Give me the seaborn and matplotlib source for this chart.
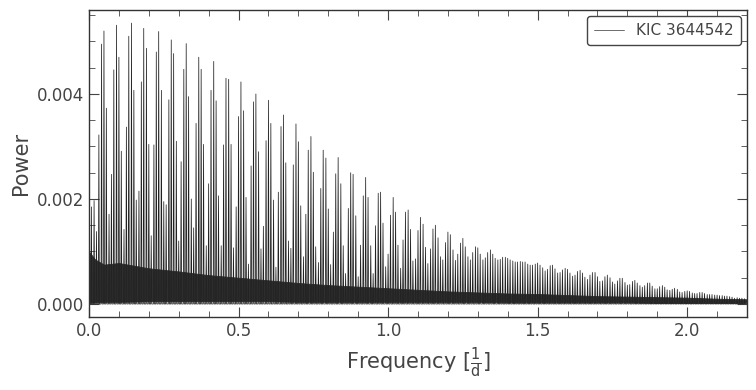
import numpy as np
import pandas as pd
import matplotlib
matplotlib.use('Agg')
import matplotlib.pyplot as plt
import seaborn as sns
from matplotlib.ticker import MultipleLocator

# Comb of periodogram peaks (frequency in 1/d)
peak_freq = [
    0.008, 0.017, 0.025, 0.033, 0.042, 0.050, 0.058, 0.067, 0.075, 0.083, 0.092, 0.100,
    0.108, 0.117, 0.125, 0.133, 0.142, 0.150, 0.158, 0.167, 0.175, 0.183, 0.192, 0.200,
    0.208, 0.217, 0.225, 0.233, 0.242, 0.250, 0.258, 0.267, 0.275, 0.283, 0.292, 0.300,
    0.308, 0.317, 0.325, 0.333, 0.342, 0.350, 0.358, 0.367, 0.375, 0.383, 0.392, 0.400,
    0.408, 0.417, 0.425, 0.433, 0.442, 0.450, 0.458, 0.467, 0.475, 0.483, 0.492, 0.500,
    0.508, 0.517, 0.525, 0.533, 0.542, 0.550, 0.558, 0.567, 0.575, 0.583, 0.592, 0.600,
    0.608, 0.617, 0.625, 0.633, 0.642, 0.650, 0.658, 0.667, 0.675, 0.683, 0.692, 0.700,
    0.708, 0.717, 0.725, 0.733, 0.742, 0.750, 0.758, 0.767, 0.775, 0.783, 0.792, 0.800,
    0.808, 0.817, 0.825, 0.833, 0.842, 0.850, 0.858, 0.867, 0.875, 0.883, 0.892, 0.900,
    0.908, 0.917, 0.925, 0.933, 0.942, 0.950, 0.958, 0.967, 0.975, 0.983, 0.992, 1.000,
    1.008, 1.017, 1.025, 1.033, 1.042, 1.050, 1.058, 1.067, 1.075, 1.083, 1.092, 1.100,
    1.108, 1.117, 1.125, 1.133, 1.142, 1.150, 1.158, 1.167, 1.175, 1.183, 1.192, 1.200,
    1.208, 1.217, 1.225, 1.233, 1.242, 1.250, 1.258, 1.267, 1.275, 1.283, 1.292, 1.300,
    1.308, 1.317, 1.325, 1.333, 1.342, 1.350, 1.358, 1.367, 1.375, 1.383, 1.392, 1.400,
    1.408, 1.417, 1.425, 1.433, 1.442, 1.450, 1.458, 1.467, 1.475, 1.483, 1.492, 1.500,
    1.508, 1.517, 1.525, 1.533, 1.542, 1.550, 1.558, 1.567, 1.575, 1.583, 1.592, 1.600,
    1.608, 1.617, 1.625, 1.633, 1.642, 1.650, 1.658, 1.667, 1.675, 1.683, 1.692, 1.700,
    1.708, 1.717, 1.725, 1.733, 1.742, 1.750, 1.758, 1.767, 1.775, 1.783, 1.792, 1.800,
    1.808, 1.817, 1.825, 1.833, 1.842, 1.850, 1.858, 1.867, 1.875, 1.883, 1.892, 1.900,
    1.908, 1.917, 1.925, 1.933, 1.942, 1.950, 1.958, 1.967, 1.975, 1.983, 1.992, 2.000,
    2.008, 2.017, 2.025, 2.033, 2.042, 2.050, 2.058, 2.067, 2.075, 2.083, 2.092, 2.100,
    2.108, 2.117, 2.125, 2.133, 2.142, 2.150, 2.158, 2.167, 2.175, 2.183, 2.192,
]

# peak heights, in units of 1e-3
peak_power_e3 = [
    1.85, 1.97, 1.38, 3.22, 4.95, 5.20, 3.73, 1.71, 2.47, 4.46, 5.31, 4.70,
    2.91, 1.42, 3.37, 5.10, 5.35, 4.07, 1.98, 2.15, 4.23, 5.25, 4.87, 3.04,
    1.30, 3.03, 4.80, 5.19, 4.07, 1.95, 1.89, 3.89, 5.03, 4.77, 3.10, 1.20,
    2.71, 4.47, 4.96, 3.95, 2.00, 1.45, 3.44, 4.70, 4.47, 3.04, 1.11, 2.29,
    4.07, 4.62, 3.87, 2.06, 1.11, 3.03, 4.30, 4.28, 3.04, 1.07, 1.85, 3.57,
    4.23, 3.68, 2.03, 0.76, 2.63, 3.85, 4.00, 2.90, 1.05, 1.48, 3.11, 3.88,
    3.44, 1.98, 0.70, 2.13, 3.38, 3.60, 2.69, 1.20, 1.06, 2.65, 3.43, 3.09,
    1.87, 0.90, 1.71, 2.93, 3.19, 2.51, 1.09, 0.79, 2.20, 2.93, 2.78, 1.81,
    0.75, 1.37, 2.48, 2.79, 2.29, 1.11, 0.58, 1.82, 2.50, 2.47, 1.68, 0.52,
    1.12, 2.06, 2.41, 2.03, 1.11, 0.58, 1.49, 2.11, 2.13, 1.54, 0.71, 0.95,
    1.69, 2.03, 1.75, 1.12, 0.68, 1.22, 1.75, 1.79, 1.42, 0.82, 0.86, 1.40,
    1.65, 1.52, 1.08, 0.77, 1.05, 1.43, 1.50, 1.26, 0.90, 0.84, 1.17, 1.37,
    1.32, 1.03, 0.83, 0.95, 1.16, 1.25, 1.09, 0.90, 0.84, 0.98, 1.09, 1.07,
    0.95, 0.84, 0.88, 0.98, 1.03, 0.95, 0.87, 0.84, 0.85, 0.89, 0.89, 0.87,
    0.84, 0.82, 0.80, 0.80, 0.81, 0.80, 0.80, 0.76, 0.74, 0.74, 0.76, 0.78,
    0.74, 0.69, 0.63, 0.66, 0.73, 0.74, 0.67, 0.59, 0.60, 0.65, 0.68, 0.66,
    0.59, 0.53, 0.55, 0.62, 0.64, 0.59, 0.51, 0.47, 0.55, 0.60, 0.60, 0.52,
    0.43, 0.44, 0.52, 0.55, 0.50, 0.42, 0.38, 0.44, 0.49, 0.49, 0.41, 0.36,
    0.37, 0.43, 0.45, 0.40, 0.35, 0.32, 0.35, 0.40, 0.40, 0.34, 0.29, 0.29,
    0.33, 0.35, 0.32, 0.27, 0.26, 0.28, 0.30, 0.28, 0.23, 0.22, 0.24, 0.25,
    0.24, 0.21, 0.20, 0.20, 0.22, 0.22, 0.20, 0.18, 0.18, 0.18, 0.17, 0.17,
    0.16, 0.16, 0.15, 0.15, 0.14, 0.13, 0.11, 0.12, 0.11, 0.11, 0.10,
]

# dense noise floor of the periodogram (envelope, units of 1e-3)
noise_freq = [0.0, 0.02, 0.05, 0.1, 0.2, 0.3, 0.4, 0.5, 0.6, 0.7, 0.8, 0.9, 1.0,
              1.1, 1.2, 1.3, 1.4, 1.5, 1.6, 1.7, 1.8, 1.9, 2.0, 2.1, 2.2]
noise_top_e3 = [1.00, 0.85, 0.75, 0.78, 0.68, 0.62, 0.55, 0.50, 0.45, 0.40, 0.36, 0.33, 0.30,
                0.27, 0.24, 0.22, 0.20, 0.19, 0.17, 0.15, 0.14, 0.13, 0.12, 0.10, 0.09]
noise_bottom_e3 = [0.02, 0.03, 0.04, 0.04, 0.05, 0.05, 0.05, 0.05, 0.05, 0.04, 0.04, 0.04, 0.04,
                   0.04, 0.04, 0.04, 0.03, 0.03, 0.03, 0.03, 0.03, 0.02, 0.02, 0.02, 0.02]

label = 'KIC 3644542'

# --- style (lightkurve-like) ---
sns.set_style('ticks')
grey = '#444444'
plt.rcParams.update({
    'font.family': ['DejaVu Sans'],
    'text.color': grey,
    'axes.labelcolor': grey,
    'axes.edgecolor': '#333333',
    'axes.linewidth': 1.0,
    'xtick.color': grey,
    'ytick.color': grey,
    'xtick.direction': 'in',
    'ytick.direction': 'in',
    'xtick.top': True,
    'ytick.right': True,
    'xtick.major.size': 7,
    'ytick.major.size': 7,
    'xtick.minor.size': 4,
    'ytick.minor.size': 4,
    'xtick.labelsize': 12,
    'ytick.labelsize': 12,
    'axes.labelsize': 15,
})

# build the line: each peak is a narrow spike rising from the floor
half_w = 0.0018
peak_power = np.array(peak_power_e3) * 1e-3
xs, ys = [], []
for f, p in zip(peak_freq, peak_power):
    xs += [f - half_w, f, f + half_w]
    ys += [0.0, p, 0.0]
df = pd.DataFrame({'frequency': xs, 'power': ys})

fig = plt.figure(figsize=(7.56, 3.9), dpi=100)
ax = fig.add_axes([89 / 756, 1 - 317 / 390, (747 - 89) / 756, (317 - 10) / 390])

ax.fill_between(noise_freq, np.array(noise_bottom_e3) * 1e-3, np.array(noise_top_e3) * 1e-3,
                color='#303030', linewidth=0.6, edgecolor='#303030')
sns.lineplot(data=df, x='frequency', y='power', sort=False, estimator=None,
             color='#222222', linewidth=0.55, ax=ax, label=label)

ax.set_xlim(0, 2.2)
ax.set_ylim(-0.000248, 0.0056)
ax.xaxis.set_major_locator(MultipleLocator(0.5))
ax.xaxis.set_minor_locator(MultipleLocator(0.1))
ax.yaxis.set_major_locator(MultipleLocator(0.002))
ax.yaxis.set_minor_locator(MultipleLocator(0.0005))
ax.tick_params(which='both', top=True, right=True, direction='in')

ax.set_xlabel('Frequency [$\\frac{1}{\\mathrm{d}}$]')
ax.set_ylabel('Power')

leg = ax.legend(loc='upper right', fontsize=11, frameon=True, fancybox=True,
                handlelength=2.0, borderaxespad=0.4, borderpad=0.45)
leg.get_frame().set_edgecolor(grey)
leg.get_frame().set_linewidth(1.0)
leg.get_frame().set_alpha(1.0)
for h in leg.get_lines():
    h.set_linewidth(0.6)
    h.set_color('#555555')

fig.savefig('out.png', dpi=100)
